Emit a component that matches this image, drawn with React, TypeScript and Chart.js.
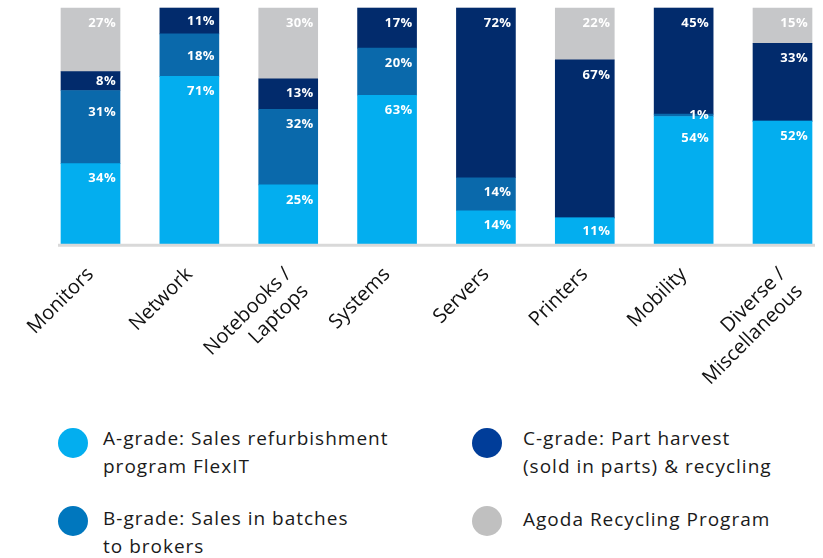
import React, { useEffect, useRef } from "react";
import { Chart, registerables } from "chart.js";

Chart.register(...registerables);

const categories: (string | string[])[] = [
  "Monitors",
  "Network",
  ["Notebooks /", "Laptops"],
  "Systems",
  "Servers",
  "Printers",
  "Mobility",
  ["Diverse /", "Miscellaneous"],
];

const gradeA = [34, 71, 25, 63, 14, 11, 54, 52];
const gradeB = [31, 18, 32, 20, 14, 0, 1, 0];
const gradeC = [8, 11, 13, 17, 72, 67, 45, 33];
const agoda = [27, 0, 30, 0, 0, 22, 0, 15];

const seriesNames = [
  ["A-grade: Sales refurbishment", "program FlexIT"],
  ["B-grade: Sales in batches", "to brokers"],
  ["C-grade: Part harvest", "(sold in parts) & recycling"],
  ["Agoda Recycling Program"],
];

const barColors = ["#03AEEF", "#0A69AB", "#022B6C", "#C6C7C9"];
const legendColors = ["#03AEEF", "#0077BE", "#003D99", "#C0C0C0"];

const labelPlugin = {
  id: "segLabels",
  afterDatasetsDraw(chart: any) {
    const ctx = chart.ctx;
    ctx.save();
    ctx.fillStyle = "#ffffff";
    ctx.font = "bold 13px 'Open Sans'";
    try {
      (ctx as any).letterSpacing = "0.4px";
    } catch (e) {}
    ctx.textAlign = "right";
    ctx.textBaseline = "middle";
    const n = chart.data.datasets.length;
    chart.data.datasets.forEach((ds: any, i: number) => {
      const meta = chart.getDatasetMeta(i);
      meta.data.forEach((bar: any, j: number) => {
        const v = ds.data[j];
        if (!v) return;
        const { x, y, base, width } = bar.getProps(["x", "y", "base", "width"], true);
        const h = base - y;
        // find the next non-empty segment above
        let aboveSmall = false;
        for (let k = i + 1; k < n; k++) {
          if (chart.data.datasets[k].data[j]) {
            const ab = chart.getDatasetMeta(k).data[j].getProps(["y", "base"], true);
            aboveSmall = ab.base - ab.y < 28;
            break;
          }
        }
        const ty = h < 28 ? (y + base) / 2 : y + (aboveSmall ? 22 : 15);
        ctx.fillText(v + "%", x + width / 2 - 4, ty);
      });
    });
    ctx.restore();
  },
};

const baselinePlugin = {
  id: "baseline",
  afterDatasetsDraw(chart: any) {
    const ctx = chart.ctx;
    const xs = chart.scales.x;
    const bar0 = chart.getDatasetMeta(0).data[0];
    const w = bar0 ? bar0.width : 0;
    const y = chart.chartArea.bottom + 1.5;
    ctx.save();
    ctx.strokeStyle = "#D9D9D9";
    ctx.lineWidth = 3;
    ctx.beginPath();
    ctx.moveTo(xs.getPixelForValue(0) - w / 2 - 3, y);
    ctx.lineTo(xs.getPixelForValue(categories.length - 1) + w / 2 + 3, y);
    ctx.stroke();
    ctx.restore();
  },
};

export default function App() {
  const ref = useRef<HTMLCanvasElement>(null);

  useEffect(() => {
    if (!ref.current) return;
    const series = [gradeA, gradeB, gradeC, agoda];
    const chart = new Chart(ref.current, {
      type: "bar",
      data: {
        labels: categories,
        datasets: series.map((d, i) => ({
          label: seriesNames[i].join(" "),
          data: d,
          backgroundColor: barColors[i],
          borderWidth: 0,
          barThickness: 59,
          clip: false as any,
        })),
      },
      options: {
        responsive: false,
        animation: false,
        layout: { padding: { left: 90.5, right: 40.5, top: 8, bottom: 6 } },
        plugins: { legend: { display: false }, tooltip: { enabled: false } },
        scales: {
          x: {
            stacked: true,
            offset: false,
            grid: { display: false },
            border: { display: false },
            afterFit(scale: any) {
              scale.paddingLeft = 0;
              scale.paddingRight = 0;
            },
            ticks: {
              minRotation: 45,
              maxRotation: 45,
              padding: 11,
              color: "#111111",
              font: { family: "'Open Sans'", size: 20 },
              autoSkip: false,
            },
          },
          y: {
            stacked: true,
            display: false,
            min: 0,
            max: 100,
          },
        },
      },
      plugins: [labelPlugin, baselinePlugin],
    });
    return () => chart.destroy();
  }, []);

  const legendPos = [
    { cx: 73, cy: 443, tx: 103, ty: 424 },
    { cx: 73, cy: 521, tx: 103, ty: 504 },
    { cx: 487, cy: 443, tx: 523, ty: 424 },
    { cx: 487, cy: 521, tx: 523, ty: 505 },
  ];

  return (
    <div style={{ position: "absolute", left: 0, top: 0, width: 823, height: 558, background: "#fff", overflow: "hidden" }}>
      <canvas ref={ref} width={823} height={407} style={{ display: "block" }} />
      {seriesNames.map((lines, i) => (
        <React.Fragment key={i}>
          <div
            style={{
              position: "absolute",
              left: legendPos[i].cx - 15,
              top: legendPos[i].cy - 15,
              width: 30,
              height: 30,
              borderRadius: "50%",
              background: legendColors[i],
            }}
          />
          <div
            style={{
              position: "absolute",
              left: legendPos[i].tx,
              top: legendPos[i].ty,
              fontFamily: "'Open Sans', sans-serif",
              fontSize: 19,
              letterSpacing: "1px",
              lineHeight: "28px",
              color: "#1a1a1a",
              whiteSpace: "nowrap",
            }}
          >
            {lines.map((l, k) => (
              <div key={k}>{l}</div>
            ))}
          </div>
        </React.Fragment>
      ))}
    </div>
  );
}
